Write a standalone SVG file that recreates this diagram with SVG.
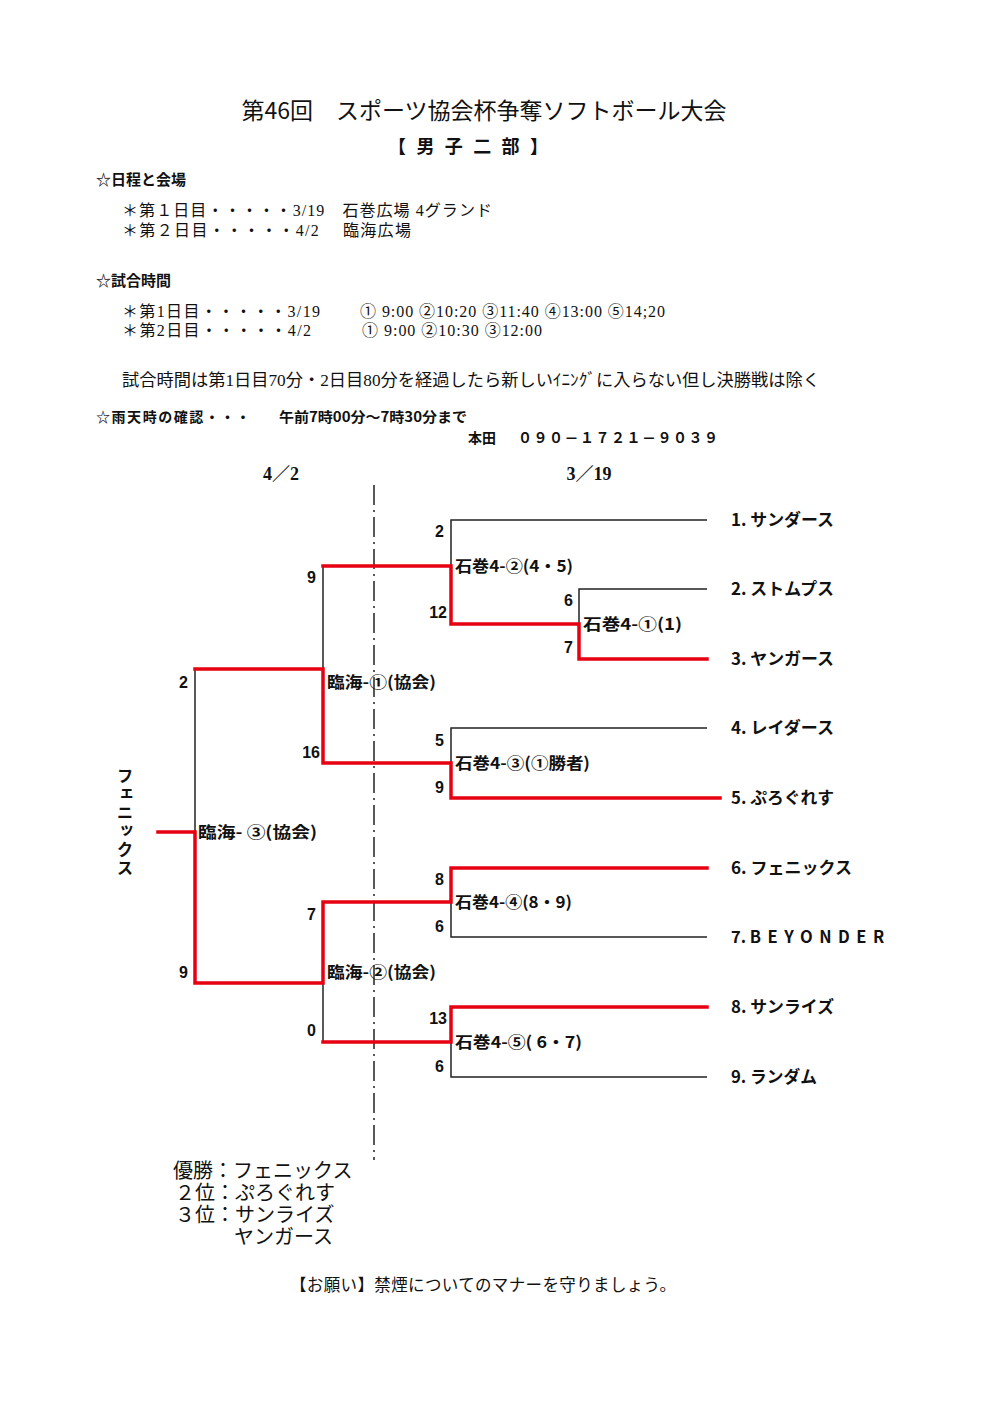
<svg xmlns="http://www.w3.org/2000/svg" width="992" height="1404" viewBox="0 0 992 1404">
<style>
.bg{fill:#fff}
.k{stroke:#222;stroke-width:1.5;fill:none}
.r{stroke:#e60012;stroke-width:3.5;fill:none;stroke-linecap:square}
.dd{stroke:#222;stroke-width:1.5;stroke-dasharray:20 5 2 5;fill:none}
.sans{font-family:"Noto Sans CJK JP","Liberation Sans",sans-serif;fill:#111}
.serif{font-family:"Liberation Serif","Noto Sans CJK JP",serif;fill:#111}
.b{font-weight:bold}
.sc{font-family:"Liberation Sans Narrow","Liberation Sans","Noto Sans CJK JP",sans-serif;font-weight:bold;font-size:16px;fill:#111;text-anchor:end}
.ml{font-family:"Noto Sans CJK JP","Liberation Sans",sans-serif;font-weight:bold;font-size:16px;fill:#111}
.tm{font-family:"Noto Sans CJK JP","Liberation Sans",sans-serif;font-weight:bold;font-size:16.5px;fill:#111}
</style>
<rect class="bg" x="0" y="0" width="992" height="1404"/>

<g id="header">
<text class="sans" x="484" y="119" font-size="23" text-anchor="middle">第46回　スポーツ協会杯争奪ソフトボール大会</text>
<text class="sans b" x="468" y="153" font-size="18" text-anchor="middle" textLength="160" lengthAdjust="spacing">【 男 子 二 部 】</text>
<text class="sans b" x="96" y="185" font-size="15">☆日程と会場</text>
<text class="serif" x="122" y="216" font-size="16" textLength="370" lengthAdjust="spacing">＊第１日目・・・・・3/19　石巻広場 4グランド</text>
<text class="serif" x="122" y="236" font-size="16" textLength="289" lengthAdjust="spacing">＊第２日目・・・・・4/2　 臨海広場</text>
<text class="sans b" x="96" y="286" font-size="15">☆試合時間</text>
<text class="serif" x="122" y="317" font-size="16" textLength="198" lengthAdjust="spacing">＊第1日目・・・・・3/19</text>
<text class="serif" x="360" y="317" font-size="16" textLength="305" lengthAdjust="spacing">① 9:00 ②10:20 ③11:40 ④13:00 ⑤14;20</text>
<text class="serif" x="122" y="336" font-size="16" textLength="189" lengthAdjust="spacing">＊第2日目・・・・・4/2</text>
<text class="serif" x="362" y="336" font-size="16" textLength="180" lengthAdjust="spacing">① 9:00 ②10:30 ③12:00</text>
<text class="serif" x="122" y="386" font-size="16.5" textLength="698" lengthAdjust="spacingAndGlyphs">試合時間は第1日目70分・2日目80分を経過したら新しいｲﾆﾝｸﾞに入らない但し決勝戦は除く</text>
<text class="sans b" x="96" y="422" font-size="14" textLength="154" lengthAdjust="spacing">☆雨天時の確認・・・</text>
<text class="sans b" x="279" y="422" font-size="14" textLength="188" lengthAdjust="spacingAndGlyphs">午前7時00分～7時30分まで</text>
<text class="sans b" x="468" y="443" font-size="14">本田</text>
<text class="sans b" x="518" y="443" font-size="14" textLength="200" lengthAdjust="spacing">０９０－１７２１－９０３９</text>
<text class="serif b" x="281" y="480" font-size="18" text-anchor="middle">4／2</text>
<text class="serif b" x="589" y="480" font-size="18" text-anchor="middle">3／19</text>
</g>

<g id="connectors">
<path class="dd" d="M374,485 V1160"/>
<path class="k" d="M707,520 H451 V566"/>
<path class="k" d="M707,589 H579 V624"/>
<path class="k" d="M707,728 H451 V763"/>
<path class="k" d="M707,937 H451 V902"/>
<path class="k" d="M707,1077 H451 V1042"/>
<path class="k" d="M323,566 V669"/>
<path class="k" d="M323,983 V1042"/>
<path class="k" d="M195,669 V832"/>
<path class="r" d="M707,659 H579 V624 H451 V566 H323"/>
<path class="r" d="M720,798 H451 V763 H323 V669 H195"/>
<path class="r" d="M707,868 H451 V902 H323 V983 H195 V832 H158"/>
<path class="r" d="M707,1007 H451 V1042 H323"/>
</g>

<g id="scores">
<text class="sc" x="444" y="537">2</text>
<text class="sc" x="447" y="618">12</text>
<text class="sc" x="573" y="606">6</text>
<text class="sc" x="573" y="653">7</text>
<text class="sc" x="316" y="583">9</text>
<text class="sc" x="320" y="758">16</text>
<text class="sc" x="188" y="688">2</text>
<text class="sc" x="444" y="746">5</text>
<text class="sc" x="444" y="793">9</text>
<text class="sc" x="444" y="885">8</text>
<text class="sc" x="444" y="932">6</text>
<text class="sc" x="316" y="920">7</text>
<text class="sc" x="188" y="978">9</text>
<text class="sc" x="316" y="1036">0</text>
<text class="sc" x="447" y="1024">13</text>
<text class="sc" x="444" y="1072">6</text>
</g>

<g id="m_ishi2"><text class="ml" x="455" y="572" textLength="118" lengthAdjust="spacingAndGlyphs">石巻4-②(4・5)</text></g>
<g id="m_ishi1"><text class="ml" x="583" y="630" textLength="99" lengthAdjust="spacingAndGlyphs">石巻4-①(1)</text></g>
<g id="m_rinkai1"><text class="ml" x="327" y="688" textLength="109" lengthAdjust="spacingAndGlyphs">臨海-①(協会)</text></g>
<g id="m_ishi3"><text class="ml" x="455" y="769" textLength="135" lengthAdjust="spacingAndGlyphs">石巻4-③(①勝者)</text></g>
<g id="m_final"><text class="ml" x="198" y="838" textLength="119" lengthAdjust="spacingAndGlyphs">臨海- ③(協会)</text></g>
<g id="m_ishi4"><text class="ml" x="455" y="908" textLength="117" lengthAdjust="spacingAndGlyphs">石巻4-④(8・9)</text></g>
<g id="m_rinkai2"><text class="ml" x="327" y="978" textLength="109" lengthAdjust="spacingAndGlyphs">臨海-②(協会)</text></g>
<g id="m_ishi5"><text class="ml" x="455" y="1048" textLength="127" lengthAdjust="spacingAndGlyphs">石巻4-⑤( 6・7)</text></g>

<g id="t1"><text class="tm" x="731" y="526" textLength="103" lengthAdjust="spacingAndGlyphs">1. サンダース</text></g>
<g id="t2"><text class="tm" x="731" y="595" textLength="103" lengthAdjust="spacingAndGlyphs">2. ストムプス</text></g>
<g id="t3"><text class="tm" x="731" y="665" textLength="103" lengthAdjust="spacingAndGlyphs">3. ヤンガース</text></g>
<g id="t4"><text class="tm" x="731" y="734" textLength="103" lengthAdjust="spacingAndGlyphs">4. レイダース</text></g>
<g id="t5"><text class="tm" x="731" y="804" textLength="103" lengthAdjust="spacingAndGlyphs">5. ぷろぐれす</text></g>
<g id="t6"><text class="tm" x="731" y="874" textLength="121" lengthAdjust="spacingAndGlyphs">6. フェニックス</text></g>
<g id="t7"><text class="tm" x="731" y="943">7. <tspan letter-spacing="6.5">BEYONDER</tspan></text></g>
<g id="t8"><text class="tm" x="731" y="1013" textLength="103" lengthAdjust="spacingAndGlyphs">8. サンライズ</text></g>
<g id="t9"><text class="tm" x="731" y="1083" textLength="86" lengthAdjust="spacingAndGlyphs">9. ランダム</text></g>

<g id="champion"><text class="tm" x="125" y="767" writing-mode="vertical-rl" letter-spacing="2">フェニックス</text></g>

<g id="results">
<text class="serif" x="173" y="1178" font-size="20">優勝：フェニックス</text>
<text class="serif" x="175" y="1200" font-size="20">２位：ぷろぐれす</text>
<text class="serif" x="175" y="1222" font-size="20">３位：サンライズ</text>
<text class="serif" x="234" y="1244" font-size="20">ヤンガース</text>
<text class="serif" x="290" y="1291" font-size="16.5" textLength="386" lengthAdjust="spacing">【お願い】禁煙についてのマナーを守りましょう。</text>
</g>
</svg>
